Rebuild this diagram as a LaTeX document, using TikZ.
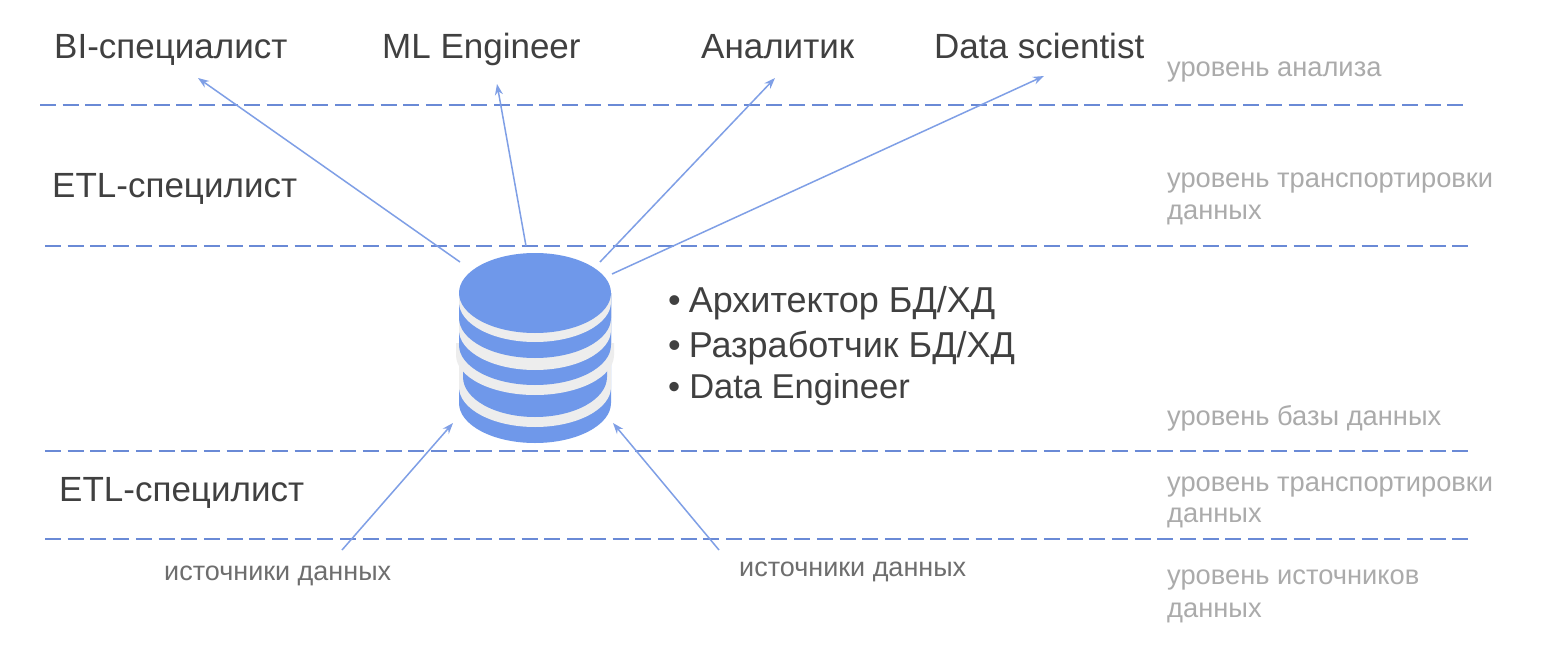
\documentclass[tikz,border=0pt]{standalone}
\usepackage{fontspec}
\setmainfont{Liberation Sans}
\usepackage{xcolor}
\usetikzlibrary{positioning, arrows.meta}

\definecolor{dbblue}{HTML}{6F98EA}
\definecolor{dbgray}{HTML}{EDEDED}
\definecolor{lineblue}{HTML}{6A8AD6}
\definecolor{arrowblue}{HTML}{7F9FE6}
\definecolor{roletext}{HTML}{404040}
\definecolor{leveltext}{HTML}{ABABAB}
\definecolor{sourcetext}{HTML}{6E6E6E}

\tikzset{
    role/.style={anchor=base west, inner sep=0pt, text=roletext, font=\fontsize{35}{40}\selectfont},
    dbrole/.style={role, font=\fontsize{36}{40}\selectfont},
    level/.style={anchor=base west, inner sep=0pt, text=leveltext, font=\fontsize{27.3}{31}\selectfont},
    source/.style={anchor=base west, inner sep=0pt, text=sourcetext, font=\fontsize{27}{31}\selectfont},
    levelline/.style={draw=lineblue, line width=2pt, dash pattern=on 16pt off 6.7pt},
    flow/.style={draw=arrowblue, line width=1.5pt, -{Stealth[length=11pt,width=8pt]}},
}

\begin{document}
\begin{tikzpicture}[x=1pt, y=-1pt]
    \useasboundingbox (0,0) rectangle (1566,666);
    \fill[white] (0,0) rectangle (1566,666);

    % level lines
    \coordinate (lineAl) at (40,105);   \coordinate (lineAr) at (1468,105);
    \coordinate (lineBl) at (45,246);   \coordinate (lineBr) at (1470,246);
    \coordinate (lineCl) at (45,451);   \coordinate (lineCr) at (1468,451);
    \coordinate (lineDl) at (45,539);   \coordinate (lineDr) at (1470,539);
    \foreach \n in {A,B,C,D}
        \draw[levelline] (line\n l) -- (line\n r);

    % database: discs painted from the bottom up
    \foreach \b/\c/\w/\t in {443/dbblue/76/293, 427/dbgray/76/293, 417/dbblue/72/293, 395/dbgray/79/343, 385/dbblue/76/293, 370/dbgray/76/293, 358/dbblue/76/293, 342/dbgray/76/293}
        \fill[\c] (535-\w,\t) -- (535-\w,\b-40) arc[start angle=180, end angle=0, x radius=\w, y radius=40] -- (535+\w,\t) -- cycle;
    \coordinate (dbtop) at (535,293);
    \fill[dbblue] (dbtop) ellipse[x radius=76, y radius=40];

    % top row
    \node[role] (bi) at (54,59) {BI-специалист};
    \node[role] (ml) at (382,59) {ML Engineer};
    \node[role] (analyst) at (701,59) {Аналитик};
    \node[role] (ds) at (934,59) {Data scientist};
    \node[role] (etlup) at (52,197) {ETL-специлист};
    \node[role] (etldown) at (59,501) {ETL-специлист};

    % roles at the database
    \node[dbrole] (arch) at (668,312) {•\hspace{8pt}Архитектор БД/ХД};
    \node[dbrole] (dev) at (668,357) {•\hspace{8pt}Разработчик БД/ХД};
    \node[dbrole, font=\fontsize{34.5}{40}\selectfont] (de) at (668,398) {•\hspace{9pt}Data Engineer};

    % sources
    \node[source] (srcleft) at (164,580) {источники данных};
    \node[source] (srcright) at (739,576) {источники данных};

    % levels
    \node[level] (lvlan) at (1167,77) {уровень анализа};
    \node[level] (lvltr) at (1167,187) {уровень транспортировки};
    \node[level] (lvltrb) at (1167,219) {данных};
    \node[level] (lvldb) at (1167,425) {уровень базы данных};
    \node[level] (lvlet) at (1167,491) {уровень транспортировки};
    \node[level] (lvletb) at (1167,522) {данных};
    \node[level] (lvlsr) at (1167,584) {уровень источников};
    \node[level] (lvlsrb) at (1167,617) {данных};

    % arrow ends
    \coordinate (outbi) at (460,262);   \coordinate (tipbi) at (198,78);
    \coordinate (outml) at (526,246);   \coordinate (tipml) at (497,84);
    \coordinate (outan) at (600,262);   \coordinate (tipan) at (775,78);
    \coordinate (outds) at (612,274);   \coordinate (tipds) at (1044,76);
    \coordinate (inl) at (342,550);     \coordinate (tipl) at (453,423);
    \coordinate (inr) at (719,550);     \coordinate (tipr) at (613,423);

    \draw[flow] (outbi) -- (tipbi);
    \draw[flow] (outml) -- (tipml);
    \draw[flow] (outan) -- (tipan);
    \draw[flow] (outds) -- (tipds);
    \draw[flow] (inl) -- (tipl);
    \draw[flow] (inr) -- (tipr);
\end{tikzpicture}
\end{document}
